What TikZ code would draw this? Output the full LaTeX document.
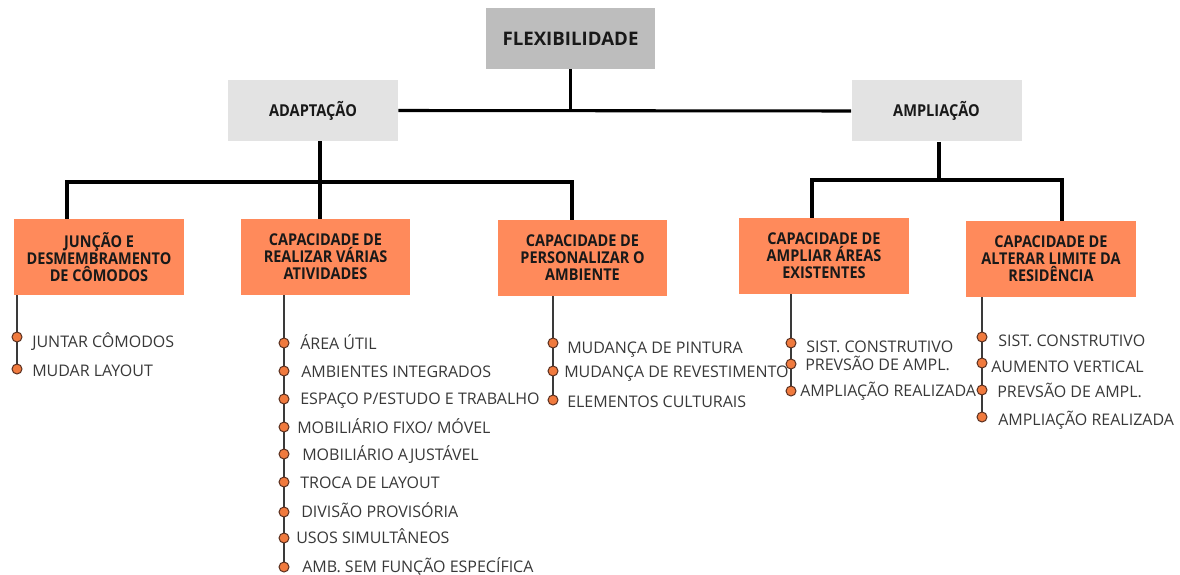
\documentclass[tikz,border=0pt]{standalone}
\usepackage{fontspec}
\setmainfont{Open Sans}
\newfontfamily\boxfont{Open Sans}[FakeStretch=0.89]
\usetikzlibrary{backgrounds}
\definecolor{orangebox}{HTML}{FF8A5B}
\definecolor{flexgray}{HTML}{BDBDBD}
\definecolor{lightgraybox}{HTML}{E3E3E3}
\definecolor{dotfill}{HTML}{F07A3E}
\definecolor{dotline}{HTML}{5A3020}
\definecolor{itemtext}{HTML}{383838}
\definecolor{linegray}{HTML}{3A3A3A}
\begin{document}
\begin{tikzpicture}[x=0.75pt,y=-0.75pt,
  flexbox/.style={fill=flexgray, inner sep=0pt, minimum width=126.75pt, minimum height=45.75pt, font=\fontsize{14}{16}\selectfont\bfseries, text=black!90},
  midbox/.style={fill=lightgraybox, inner sep=0pt, minimum width=127.5pt, minimum height=45.75pt, font=\boxfont\fontsize{12.3}{14}\selectfont\bfseries, text=black!90},
  capbox/.style={fill=orangebox, inner sep=0pt, minimum width=127pt, minimum height=57pt, align=center, font=\boxfont\fontsize{12.2}{12.75}\selectfont\bfseries, text=black!90},
  link/.style={line width=2.3pt, black, line join=miter},
  ilink/.style={line width=1.5pt, linegray},
  dot/.style={circle, fill=dotfill, draw=dotline, line width=0.75pt, inner sep=0pt, minimum size=7.5pt},
  item/.style={anchor=base west, inner sep=0pt, text=itemtext, font=\fontsize{12}{14}\selectfont}]
\useasboundingbox (0,0) rectangle (1180,574);

% top level boxes
\node[flexbox] (flex) at (570.5,38.5) {FLEXIBILIDADE};
\node[midbox] (adapt) at (313,110.5) {ADAPTAÇÃO};
\node[midbox] (ampl) at (936.5,111) {AMPLIAÇÃO};

% category boxes
\node[capbox] (b1) at (99,257) {JUNÇÃO E\\DESMEMBRAMENTO\\DE CÔMODOS};
\node[capbox] (b2) at (325.5,257) {CAPACIDADE DE\\REALIZAR VÁRIAS\\ATIVIDADES};
\node[capbox] (b3) at (582.5,258) {CAPACIDADE DE\\PERSONALIZAR O\\AMBIENTE};
\node[capbox] (b4) at (824,256) {CAPACIDADE DE\\AMPLIAR ÁREAS\\EXISTENTES};
\node[capbox] (b5) at (1051,259) {CAPACIDADE DE\\ALTERAR LIMITE DA\\RESIDÊNCIA};

% main connectors
\draw[link] (adapt.east) -- (ampl.west);
\draw[link] (flex.south) -- (flex.south |- adapt.east);
\coordinate (ja) at (320,182);
\coordinate (j1) at (67,182);
\coordinate (j3) at (572,182);
\draw[link] (adapt.south -| ja) -- (ja) -- (b2.north -| ja);
\draw[link] (b1.north -| j1) -- (j1) -- (j3) -- (b3.north -| j3);
\coordinate (jb) at (939,180);
\coordinate (j4) at (812,180);
\coordinate (j5) at (1062,180);
\draw[link] (ampl.south -| jb) -- (jb);
\draw[link] (b4.north -| j4) -- (j4) -- (j5) -- (b5.north -| j5);

% items of b1
\node[dot] (d1-1) at (17,337) {};
\node[dot] (d1-2) at (17,369) {};
\node[item] (t1-1) at (32,347) {JUNTAR CÔMODOS};
\node[item] (t1-2) at (32,376) {MUDAR LAYOUT};

% items of b2
\node[dot] (d2-1) at (284,343) {};
\node[dot] (d2-2) at (284,371) {};
\node[dot] (d2-3) at (284,399) {};
\node[dot] (d2-4) at (284,427) {};
\node[dot] (d2-5) at (284,454) {};
\node[dot] (d2-6) at (284,482) {};
\node[dot] (d2-7) at (284,512) {};
\node[dot] (d2-8) at (284,538) {};
\node[dot] (d2-9) at (284,567) {};
\node[item] (t2-1) at (300,349) {ÁREA ÚTIL};
\node[item] (t2-2) at (301,377) {AMBIENTES INTEGRADOS};
\node[item] (t2-3) at (300,404) {ESPAÇO P/ESTUDO E TRABALHO};
\node[item] (t2-4) at (297,433) {MOBILIÁRIO FIXO/ MÓVEL};
\node[item] (t2-5) at (302,460) {MOBILIÁRIO AJUSTÁVEL};
\node[item] (t2-6) at (300,488) {TROCA DE LAYOUT};
\node[item] (t2-7) at (301,517) {DIVISÃO PROVISÓRIA};
\node[item] (t2-8) at (296,543) {USOS SIMULTÂNEOS};
\node[item] (t2-9) at (302,572) {AMB. SEM FUNÇÃO ESPECÍFICA};

% items of b3
\node[dot] (d3-1) at (553,343) {};
\node[dot] (d3-2) at (553,371) {};
\node[dot] (d3-3) at (553,400) {};
\node[item] (t3-1) at (567,353) {MUDANÇA DE PINTURA};
\node[item] (t3-2) at (564,377) {MUDANÇA DE REVESTIMENTO};
\node[item] (t3-3) at (567,407) {ELEMENTOS CULTURAIS};

% items of b4
\node[dot] (d4-1) at (791,343) {};
\node[dot] (d4-2) at (791,364) {};
\node[dot] (d4-3) at (791,391) {};
\node[item] (t4-1) at (806,352) {SIST. CONSTRUTIVO};
\node[item] (t4-2) at (805,370) {PREVSÃO DE AMPL.};
\node[item] (t4-3) at (800,396) {AMPLIAÇÃO REALIZADA};

% items of b5
\node[dot] (d5-1) at (982,337) {};
\node[dot] (d5-2) at (982,363) {};
\node[dot] (d5-3) at (982,390) {};
\node[dot] (d5-4) at (982,417) {};
\node[item] (t5-1) at (998,346) {SIST. CONSTRUTIVO};
\node[item] (t5-2) at (991,372) {AUMENTO VERTICAL};
\node[item] (t5-3) at (997,397) {PREVSÃO DE AMPL.};
\node[item] (t5-4) at (998,425) {AMPLIAÇÃO REALIZADA};

% item lines
\begin{pgfonlayer}{background}
\draw[ilink] (b1.south -| d1-1) -- (d1-2);
\draw[ilink] (b2.south -| d2-1) -- (d2-9);
\draw[ilink] (b3.south -| d3-1) -- (d3-3);
\draw[ilink] (b4.south -| d4-1) -- (d4-3);
\draw[ilink] (b5.south -| d5-1) -- (d5-4);
\end{pgfonlayer}
\end{tikzpicture}
\end{document}
